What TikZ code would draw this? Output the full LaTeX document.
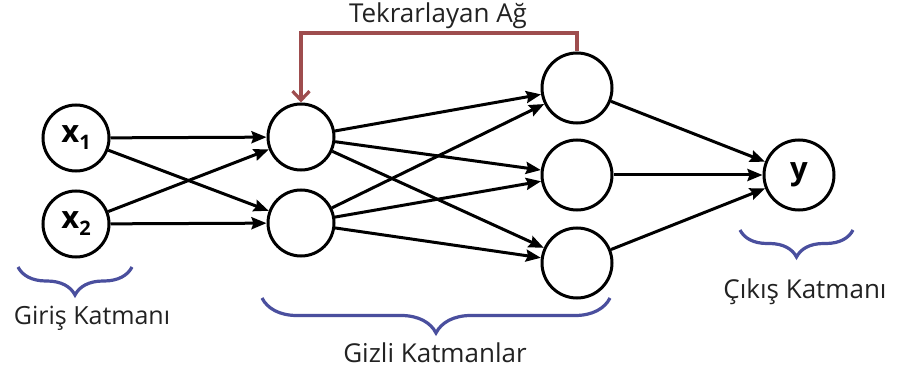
\documentclass[tikz,border=0pt]{standalone}
\usepackage{fontspec}
\setmainfont{Open Sans}
\usetikzlibrary{arrows.meta,decorations.pathreplacing}
\definecolor{fbred}{HTML}{9E4D4E}
\definecolor{brblue}{HTML}{4A4F9E}
\definecolor{txt}{HTML}{222222}
\begin{document}
\begin{tikzpicture}[x=1pt,y=1pt,
  neuron/.style={circle,draw=black,line width=3pt,minimum size=66pt,inner sep=0pt,font=\fontsize{31}{31}\selectfont\bfseries},
  bigneuron/.style={neuron,minimum size=70pt},
  conn/.style={line width=3pt,-{Stealth[length=15pt,width=12pt,inset=2pt]}},
  fb/.style={draw=fbred,line width=3.2pt,-{Straight Barb[length=9pt,width=17pt,line width=3.2pt]}},
  br/.style={draw=brblue,line width=3.2pt,decorate},
  lbl/.style={text=txt,font=\fontsize{26}{26}\selectfont}]
\path[use as bounding box,fill=white] (0,0) rectangle (900,-377);
% nodes
\node[neuron] (x1) at (76,-138) {x\raisebox{-7pt}{\fontsize{20}{20}\selectfont 1}};
\node[neuron] (x2) at (76,-224) {x\raisebox{-7pt}{\fontsize{20}{20}\selectfont 2}};
\node[neuron] (h1) at (301,-137) {};
\node[neuron] (h2) at (301,-223) {};
\node[bigneuron] (g1) at (577,-88) {};
\node[bigneuron] (g2) at (577,-175) {};
\node[bigneuron] (g3) at (577,-263) {};
\node[bigneuron] (y) at (799,-175) {y};
% connections
\foreach \a in {x1,x2} \foreach \b in {h1,h2} \draw[conn] (\a) -- (\b);
\foreach \a in {h1,h2} \foreach \b in {g1,g2,g3} \draw[conn] (\a) -- (\b);
\foreach \a in {g1,g2,g3} \draw[conn] (\a) -- (y);
% feedback
\coordinate (fbtop) at (577,-33);
\draw[fb] (g1.north) -- (fbtop) -| (h1.north);
\node[lbl] (tl) at (438,-16) {Tekrarlayan Ağ};
% braces
\coordinate (b1l) at (18,-267); \coordinate (b1r) at (132,-267);
\draw[br,decoration={brace,mirror,amplitude=28pt}] (b1l) -- (b1r);
\coordinate (b2l) at (262,-298); \coordinate (b2r) at (610,-298);
\draw[br,decoration={brace,mirror,amplitude=35pt}] (b2l) -- (b2r);
\coordinate (b3l) at (740,-230); \coordinate (b3r) at (853,-230);
\draw[br,decoration={brace,mirror,amplitude=27pt}] (b3l) -- (b3r);
\node[lbl,font=\fontsize{25}{25}\selectfont] (l1) at (92,-318) {Giriş Katmanı};
\node[lbl] (l2) at (435,-353) {Gizli Katmanlar};
\node[lbl] (l3) at (805,-292) {Çıkış Katmanı};
\end{tikzpicture}
\end{document}
